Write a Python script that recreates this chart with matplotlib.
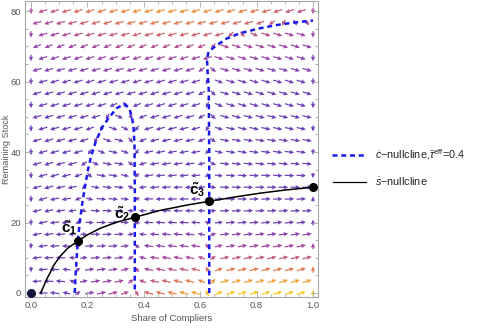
import matplotlib
matplotlib.use('Agg')
import matplotlib.pyplot as plt
from matplotlib.colors import LinearSegmentedColormap
from matplotlib.lines import Line2D
import numpy as np

plt.rcParams['font.family'] = ['Liberation Sans', 'DejaVu Sans']
plt.rcParams['mathtext.fontset'] = 'custom'
plt.rcParams['mathtext.rm'] = 'Liberation Sans'
plt.rcParams['mathtext.it'] = 'Liberation Sans:italic'
plt.rcParams['mathtext.bf'] = 'Liberation Sans:bold'

# c-nullcline, hump part
hump_c = [0.155, 0.158, 0.162, 0.166, 0.173, 0.181, 0.191, 0.202, 0.214, 0.230,
          0.252, 0.279, 0.305, 0.332, 0.348, 0.358, 0.364, 0.367, 0.368, 0.368]
hump_s = [0, 5, 10, 15, 20, 25, 30, 35, 39, 43,
          47, 50, 52.5, 53.6, 52.5, 50, 46.5, 42, 30, 0]

# c-nullcline, right branch
branch_c = [0.632, 0.632, 0.630, 0.626, 0.624, 0.630, 0.652, 0.694, 0.741, 0.812, 0.870, 0.930, 1.0]
branch_s = [0, 40, 58, 63, 66.5, 68.5, 69.9, 72.2, 73.7, 75.1, 76.0, 76.7, 77.3]

# s-nullcline
snull_c = [0.034, 0.042, 0.049, 0.058, 0.067, 0.080, 0.102, 0.130, 0.166, 0.200,
           0.244, 0.300, 0.369, 0.456, 0.550, 0.631, 0.720, 0.810, 0.900, 1.0]
snull_s = [0, 1.4, 2.7, 4.3, 5.6, 7.8, 10.3, 12.7, 14.7, 16.5,
           18.3, 20.0, 21.5, 23.4, 24.9, 26.0, 27.2, 28.3, 29.2, 30.0]

# equilibria
eq_c = [0.166, 0.369, 0.631, 1.0]
eq_s = [14.7, 21.5, 26.0, 30.0]
eq_labels = [r'$\mathbf{\tilde{c}_1}$', r'$\mathbf{\tilde{c}_2}$', r'$\mathbf{\tilde{c}_3}$']
label_c = [0.134, 0.322, 0.590]
label_s = [18.6, 22.6, 29.4]

x_ticks = [0.0, 0.2, 0.4, 0.6, 0.8, 1.0]
x_ticklabels = ['0.0', '0.2', '0.4', '0.6', '0.8', '1.0']
y_ticks = [0, 20, 40, 60, 80]


def field_direction(c, s):
    """Direction of the vector field from the position relative to the nullclines."""
    peak = int(np.argmax(hump_s))
    left_c, left_s = hump_c[:peak + 1], hump_s[:peak + 1]
    right_c, right_s = hump_c[peak:][::-1], hump_s[peak:][::-1]
    dist = 1.0
    inside = False
    if s < hump_s[peak]:
        lc = np.interp(s, left_s, left_c)
        rc = np.interp(s, right_s, right_c)
        inside = lc < c < rc
        dist = min(dist, abs(c - lc), abs(c - rc))
    upper_c = branch_c[5:]
    upper_s = branch_s[5:]
    if s <= 66.5:
        bc = np.interp(s, branch_s[:5], branch_c[:5])
        right = c > bc
        dist = min(dist, abs(c - bc))
    else:
        right = c > upper_c[0] and s < np.interp(c, upper_c, upper_s)
        dist = min(dist, abs(s - np.interp(c, upper_c, upper_s)) / 40)
    sign = 1.0 if (inside or right) else -1.0
    hx = sign * np.clip(dist / 0.05, 0.15, 1.0)
    if c <= 0 or c >= 1:
        hx = 0.0
    sn = np.interp(c, snull_c, snull_s, left=0.0)
    vy = 0.3 * np.clip((sn - s) / 25, -1, 1)
    return hx, vy


def field_tone(c, s):
    top = np.clip((s - 58) / 22, 0, 1) * (0.45 + 0.55 * np.clip(1 - ((c - 0.5) / 0.5) ** 2, 0, 1)) * 0.75
    bot = np.clip((22 - s) / 22, 0, 1) ** 1.3 * np.clip((c - 0.12) / 0.55, 0, 1)
    return max(top, bot)


cmap = LinearSegmentedColormap.from_list(
    'sunset', [(0, '#6434b0'), (0.35, '#a8409a'), (0.6, '#dc6a48'), (0.8, '#ee9a2a'), (1, '#f2c81e')])

# hexagonal grid of vectors
xs, ys, us, vs, cols = [], [], [], [], []
rows = np.linspace(0, 80, 25)
for i, s in enumerate(rows):
    if i % 2 == 0:
        cs = np.linspace(0, 1, 25)
    else:
        cs = np.linspace(1 / 48, 47 / 48, 24)
    for c in cs:
        hx, vy = field_direction(c, s)
        mag = np.hypot(hx, vy)
        if mag == 0:
            continue
        length = 0.55 + 0.45 * min(1.0, mag)
        xs.append(c)
        ys.append(s)
        us.append(hx / mag * length)
        vs.append(vy / mag * length)
        cols.append(cmap(field_tone(c, s)))

fig = plt.figure(figsize=(4.84, 3.28), dpi=100)
ax = fig.add_axes([25 / 484, 31 / 328, 293 / 484, 296 / 328])

ax.quiver(xs, ys, us, vs, color=cols, angles='uv', scale_units='inches', scale=100 / 9.5,
          pivot='middle', width=0.0042, headwidth=3.6, headlength=3.8, headaxislength=3.4,
          alpha=0.95, zorder=1)

blue = '#1a1aee'
ax.plot(hump_c, hump_s, color=blue, lw=1.8, ls=(0, (2, 1.5)), zorder=2)
ax.plot(branch_c, branch_s, color=blue, lw=1.8, ls=(0, (2, 1.5)), zorder=2)
ax.plot(snull_c, snull_s, color='black', lw=1.1, zorder=3)
ax.plot(eq_c, eq_s, 'o', color='black', ms=5.5, zorder=4)
ax.plot([0], [0], 'o', color='#14143c', ms=5.5, zorder=4)

for lab, lc, ls_ in zip(eq_labels, label_c, label_s):
    ax.text(lc, ls_, lab, fontsize=11, ha='center', va='center', zorder=5)

ax.set_xlim(-0.0213, 1.0177)
ax.set_ylim(-1.135, 82.84)

frame_col = '#a8a8a8'
for sp in ax.spines.values():
    sp.set_color(frame_col)
    sp.set_linewidth(0.8)

ax.set_xticks(x_ticks)
ax.set_xticklabels(x_ticklabels)
ax.set_yticks(y_ticks)
ax.set_xticks(np.arange(0, 1.001, 0.05), minor=True)
ax.set_yticks(np.arange(0, 81, 5), minor=True)
ax.tick_params(which='both', direction='in', top=True, right=True, color=frame_col,
               labelsize=6.8, labelcolor='#555555', width=0.6)
ax.tick_params(which='major', length=4, pad=3)
ax.tick_params(which='minor', length=2)

ax.set_xlabel('Share of Compliers', fontsize=6.8, color='#555555', labelpad=3)
ax.set_ylabel('Remaining Stock', fontsize=6.6, color='#555555')
ax.yaxis.set_label_coords(-0.048, 0.5)

# legend drawn at the right of the frame
fig.add_artist(Line2D([332 / 484, 366 / 484], [1 - 155 / 328, 1 - 155 / 328], color=blue,
                      lw=1.8, ls=(0, (2, 1.5))))
fig.add_artist(Line2D([333 / 484, 366 / 484], [1 - 182 / 328, 1 - 182 / 328], color='black', lw=0.9))
fig.text(375 / 484, 1 - 155 / 328, r'$\dot{c}$−nullcline,$\bar{\tau}^{\mathrm{eff}}$=0.4',
         fontsize=7.8, va='center', ha='left', color='#222222')
fig.text(375 / 484, 1 - 182 / 328, r'$\dot{s}$−nullcline', fontsize=7.8, va='center',
         ha='left', color='#222222')

fig.savefig('out.png', dpi=100)
